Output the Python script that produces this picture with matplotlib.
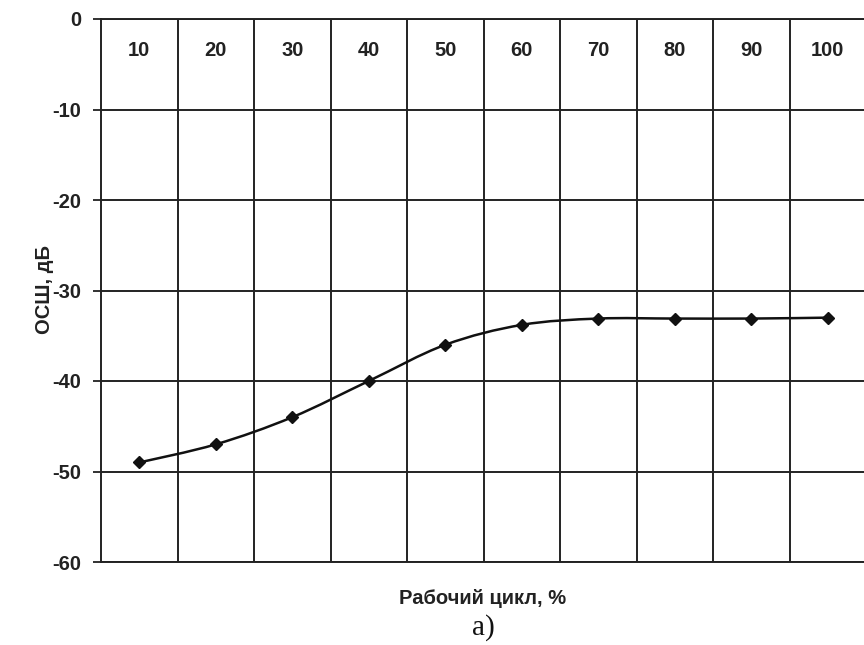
import matplotlib.pyplot as plt
import numpy as np
from matplotlib.path import Path
from matplotlib.patches import PathPatch

plt.rcParams['font.family'] = ['Liberation Sans', 'DejaVu Sans']

# рабочий цикл, % и ОСШ, дБ
duty = [10, 20, 30, 40, 50, 60, 70, 80, 90, 100]
snr = [-49.0, -47.0, -44.0, -40.0, -36.0, -33.8, -33.1, -33.1, -33.1, -33.0]
yticks = [0, -10, -20, -30, -40, -50, -60]

fig = plt.figure(figsize=(8.64, 6.45), dpi=100)
ax = fig.add_axes([101/864, 1 - 562/645, 765/864, 543/645])

xs = np.arange(1, len(duty) + 1)

# smooth line like the spreadsheet "smoothed" chart (Catmull-Rom as bezier)
pts = np.column_stack([xs, snr])
verts = [tuple(pts[0])]
codes = [Path.MOVETO]
for i in range(len(pts) - 1):
    p0 = pts[i - 1] if i > 0 else pts[i]
    p1 = pts[i]
    p2 = pts[i + 1]
    p3 = pts[i + 2] if i + 2 < len(pts) else pts[i + 1]
    c1 = p1 + (p2 - p0) / 6
    c2 = p2 - (p3 - p1) / 6
    verts += [tuple(c1), tuple(c2), tuple(p2)]
    codes += [Path.CURVE4] * 3
ax.add_patch(PathPatch(Path(verts, codes), fill=False, edgecolor='#111111', lw=1.8, zorder=3))
ax.plot(xs, snr, linestyle='none', marker='D', markersize=6, color='#111111', zorder=4)

for x, lab in zip(xs, duty):
    ax.text(x, -3.5, str(lab), ha='center', va='center', fontsize=14.5, fontweight='bold', color='#222222')

ax.set_xlim(0.5, len(duty) + 0.5)
ax.set_ylim(-60, 0)
ax.set_yticks(yticks)
ax.set_yticklabels([str(t) for t in yticks], fontsize=14.5, fontweight='bold', color='#222222')
ax.set_xticks(xs[:-1] + 0.5)
ax.set_xticklabels([])
ax.tick_params(axis='x', length=0)
ax.tick_params(axis='y', length=6, width=1.3, color='#222222', pad=8)
ax.grid(True, color='#222222', lw=1.4)
for s in ax.spines.values():
    s.set_color('#222222')
    s.set_linewidth(1.4)

fig.text(45/864, 1 - 290/645, 'ОСШ, дБ', rotation=90, ha='center', va='center',
         fontsize=14.5, fontweight='bold', color='#222222')
fig.text(483/864, 1 - 599/645, 'Рабочий цикл, %', ha='center', va='center',
         fontsize=14.5, fontweight='bold', color='#222222')
fig.text(483/864, 1 - 628/645, 'а)', ha='center', va='center',
         fontsize=21, family=['Liberation Serif', 'DejaVu Serif'], color='#111111')

fig.savefig('out.png', dpi=100)
